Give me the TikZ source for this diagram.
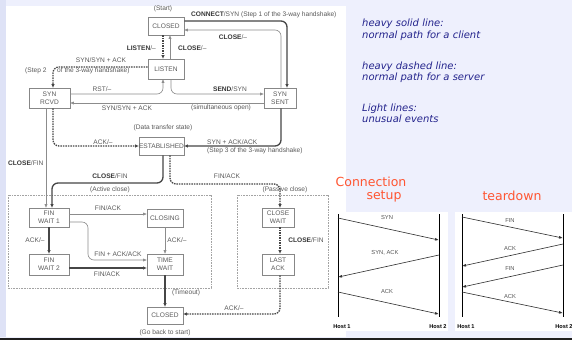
\documentclass[tikz,border=0pt]{standalone}
\usepackage{fontspec}
\setmainfont{Liberation Sans}
\newfontfamily\djv{DejaVu Sans}
\usetikzlibrary{arrows.meta}
\definecolor{bgl}{RGB}{238,240,253}
\definecolor{strip}{RGB}{222,226,246}
\definecolor{txtg}{RGB}{90,90,90}
\definecolor{boldg}{RGB}{55,55,55}
\definecolor{heavyc}{RGB}{70,70,70}
\definecolor{lightc}{RGB}{140,140,140}
\definecolor{boxc}{RGB}{135,135,135}
\definecolor{navy}{RGB}{35,35,140}
\definecolor{orng}{RGB}{255,85,50}
\definecolor{seqc}{RGB}{45,45,45}
\newcommand{\bb}[1]{\textbf{\color{boldg}#1}}
\begin{document}
\begin{tikzpicture}[x=1pt,y=-1pt,
  >={Triangle[length=3.5pt,width=2.8pt]},
  st/.style={draw=boxc,line width=0.6pt,fill=white,text=txtg,font=\fontsize{6.6}{8}\selectfont,align=center,inner sep=0pt},
  heavy/.style={draw=heavyc,line width=1.3pt,->,rounded corners=6pt},
  hdash/.style={heavy,dash pattern=on 1.5pt off 1pt},
  light/.style={draw=lightc,line width=0.6pt,->,rounded corners=6pt},
  lbl/.style={text=txtg,font=\fontsize{6.6}{7}\selectfont,inner sep=0pt},
  region/.style={draw=lightc!80,line width=0.6pt,dash pattern=on 0.8pt off 0.8pt},
  note/.style={text=navy,font=\djv\itshape\fontsize{10}{11.5}\selectfont,align=left,inner sep=0pt,anchor=west},
  ttl/.style={text=orng,font=\djv\fontsize{12.5}{14}\selectfont,inner sep=0pt},
  hostline/.style={draw=black,line width=1pt},
  msg/.style={draw=seqc,line width=0.6pt,-{Triangle[length=3.5pt,width=2.5pt]}},
  mlbl/.style={text=seqc!80,font=\fontsize{5.8}{7}\selectfont,inner sep=0pt},
  host/.style={text=black,font=\bfseries\fontsize{5.6}{7}\selectfont,inner sep=0pt}
]
\useasboundingbox (0,0) rectangle (572,340);
% backgrounds
\fill[bgl] (0,0) rectangle (572,340);
\fill[strip] (0,0) rectangle (6,337);
\fill[white] (6,6) rectangle (346,337);
\fill[white] (335,212) rectangle (448,331);
\fill[white] (455,212) rectangle (572,331);
\fill[black!88] (0,337.5) rectangle (572,340);

% regions
\draw[region] (8,195) rectangle (211,288);
\draw[region] (237,195) rectangle (328,288);

% states
\node[st,minimum width=36pt,minimum height=18pt] (closedA) at (166,26) {CLOSED};
\node[st,minimum width=36pt,minimum height=20pt] (listen) at (166,69) {LISTEN};
\node[st,minimum width=41pt,minimum height=20pt] (synrcvd) at (49.5,98) {SYN\\RCVD};
\node[st,minimum width=32pt,minimum height=20pt] (synsent) at (280,98) {SYN\\SENT};
\node[st,minimum width=45pt,minimum height=18pt] (estab) at (161.5,146) {ESTABLISHED};
\node[st,minimum width=40pt,minimum height=19pt] (finw1) at (49,217.5) {FIN\\WAIT 1};
\node[st,minimum width=36pt,minimum height=18pt] (closing) at (165,218) {CLOSING};
\node[st,minimum width=40pt,minimum height=21pt] (finw2) at (49,264.5) {FIN\\WAIT 2};
\node[st,minimum width=36pt,minimum height=21pt] (timew) at (165,264.5) {TIME\\WAIT};
\node[st,minimum width=36pt,minimum height=17pt] (closeB) at (165,315.5) {CLOSED};
\node[st,minimum width=32pt,minimum height=19pt] (closew) at (278,217.5) {CLOSE\\WAIT};
\node[st,minimum width=32pt,minimum height=21pt] (lastack) at (278,264.5) {LAST\\ACK};

% transitions
\draw[heavy] (closedA.east |- 0,21) -- (287,21) -- (287,0 |- synsent.north);
\draw[light] (281,0 |- synsent.north) -- (281,30) -- (closedA.east |- 0,30);
\draw[hdash] (163,0 |- closedA.south) -- (163,0 |- listen.north);
\draw[light] (170,0 |- listen.north) -- (170,0 |- closedA.south);
\draw[hdash] (listen.west |- 0,67) -- (53,67) -- (53,0 |- synrcvd.north);
\draw[light] (synrcvd.east |- 0,94) -- (163,94) -- (163,0 |- listen.south);
\draw[light] (171,0 |- listen.south) -- (171,94) -- (synsent.west |- 0,94);
\draw[light] (synsent.west |- 0,103) -- (synrcvd.east |- 0,103);
\draw[heavy] (281,0 |- synsent.south) -- (281,146) -- (estab.east |- 0,146);
\draw[hdash] (53,0 |- synrcvd.south) -- (53,146) -- (estab.west |- 0,146);
\draw[light] (46,0 |- synrcvd.south) -- (46,0 |- finw1.north);
\draw[heavy] (163,0 |- estab.south) -- (163,183) -- (52,183) -- (52,0 |- finw1.north);
\draw[hdash] (170,0 |- estab.south) -- (170,184) -- (280,184) -- (280,0 |- closew.north);
\draw[light] (finw1.east |- 0,214) -- (closing.west |- 0,214);
\draw[light] (finw1.east |- 0,222) -- (88,222) -- (88,260) -- (timew.west |- 0,260);
\draw[heavy] (finw1.south) -- (finw2.north);
\draw[light] (closing.south) -- (timew.north);
\draw[heavy] (finw2.east |- 0,268) -- (timew.west |- 0,268);
\draw[heavy] (timew.south) -- (closeB.north);
\draw[hdash] (280,0 |- closew.south) -- (280,0 |- lastack.north);
\draw[hdash] (280,0 |- lastack.south) -- (280,314) -- (closeB.east |- 0,314);

% labels
\node[lbl] (l1) at (163,9) {(Start)};
\node[lbl,anchor=west] (l2) at (191,15) {\bb{CONNECT}/SYN (Step 1 of the 3-way handshake)};
\node[lbl] (l3) at (233,37) {\bb{CLOSE}/–};
\node[lbl,anchor=east] (l4) at (156,48) {\bb{LISTEN}/–};
\node[lbl,anchor=west] (l5) at (178,48) {\bb{CLOSE}/–};
\node[lbl] (l6) at (101,60) {SYN/SYN + ACK};
\node[lbl,anchor=west] (l7) at (25,71) {(Step 2};
\node[lbl,anchor=west] (l8) at (57,71) {of the 3-way handshake)};
\node[lbl] (l9) at (102,89) {RST/–};
\node[lbl] (l10) at (230,89) {\bb{SEND}/SYN};
\node[lbl] (l11) at (127,108) {SYN/SYN + ACK};
\node[lbl] (l12) at (221,108) {(simultaneous open)};
\node[lbl] (l13) at (163,128) {(Data transfer state)};
\node[lbl] (l14) at (103,142) {ACK/–};
\node[lbl,anchor=west] (l15) at (207,142) {SYN + ACK/ACK};
\node[lbl,anchor=west] (l16) at (207,150.5) {(Step 3 of the 3-way handshake)};
\node[lbl,anchor=west] (l17) at (8,163) {\bb{CLOSE}/FIN};
\node[lbl] (l18) at (110,176) {\bb{CLOSE}/FIN};
\node[lbl] (l19) at (110,190) {(Active close)};
\node[lbl] (l20) at (227,176) {FIN/ACK};
\node[lbl] (l21) at (285,190) {(Passive close)};
\node[lbl] (l22) at (108,208) {FIN/ACK};
\node[lbl] (l23) at (35,240) {ACK/–};
\node[lbl] (l24) at (177,240) {ACK/–};
\node[lbl] (l25) at (118,254) {FIN + ACK/ACK};
\node[lbl] (l26) at (107,274) {FIN/ACK};
\node[lbl] (l27) at (306,240) {\bb{CLOSE}/FIN};
\node[lbl] (l28) at (186,293) {(Timeout)};
\node[lbl] (l29) at (234,308) {ACK/–};
\node[lbl] (l30) at (165,333) {(Go back to start)};

% notes
\node[note] (n1) at (362,29.5) {heavy solid line:\\normal path for a client};
\node[note] (n2) at (362,72) {heavy dashed line:\\normal path for a server};
\node[note] (n3) at (362,113.5) {Light lines:\\unusual events};

% titles
\node[ttl] (t1) at (371,182) {Connection};
\node[ttl] (t2) at (384,196) {setup};
\node[ttl] (t3) at (512,196) {teardown};

% sequence: setup
\coordinate (a1t) at (338,214); \coordinate (a1b) at (338,317);
\coordinate (a2t) at (439,214); \coordinate (a2b) at (439,317);
\draw[hostline] (a1t) -- (a1b);
\draw[hostline] (a2t) -- (a2b);
\coordinate (s1) at (338,218); \coordinate (e1) at (438.5,240);
\coordinate (s2) at (439,255); \coordinate (e2) at (338.5,277);
\coordinate (s3) at (338,292); \coordinate (e3) at (438.5,314);
\draw[msg] (s1) -- (e1);
\draw[msg] (s2) -- (e2);
\draw[msg] (s3) -- (e3);
\node[mlbl] (m1) at (387,217) {SYN};
\node[mlbl] (m2) at (385,253) {SYN, ACK};
\node[mlbl] (m3) at (387,291) {ACK};
\node[host] (h1) at (342,327) {Host 1};
\node[host] (h2) at (438,327) {Host 2};

% sequence: teardown
\coordinate (b1t) at (462,214); \coordinate (b1b) at (462,317);
\coordinate (b2t) at (563,214); \coordinate (b2b) at (563,317);
\draw[hostline] (b1t) -- (b1b);
\draw[hostline] (b2t) -- (b2b);
\coordinate (u1) at (462,217); \coordinate (v1) at (562.5,238);
\coordinate (u2) at (563,244); \coordinate (v2) at (462.5,266);
\coordinate (u3) at (563,265); \coordinate (v3) at (462.5,287);
\coordinate (u4) at (462,292); \coordinate (v4) at (562.5,313);
\draw[msg] (u1) -- (v1);
\draw[msg] (u2) -- (v2);
\draw[msg] (u3) -- (v3);
\draw[msg] (u4) -- (v4);
\node[mlbl] (k1) at (510,221) {FIN};
\node[mlbl] (k2) at (510,248) {ACK};
\node[mlbl] (k3) at (510,269) {FIN};
\node[mlbl] (k4) at (510,296) {ACK};
\node[host] (h3) at (466,327) {Host 1};
\node[host] (h4) at (564,327) {Host 2};
\end{tikzpicture}
\end{document}
